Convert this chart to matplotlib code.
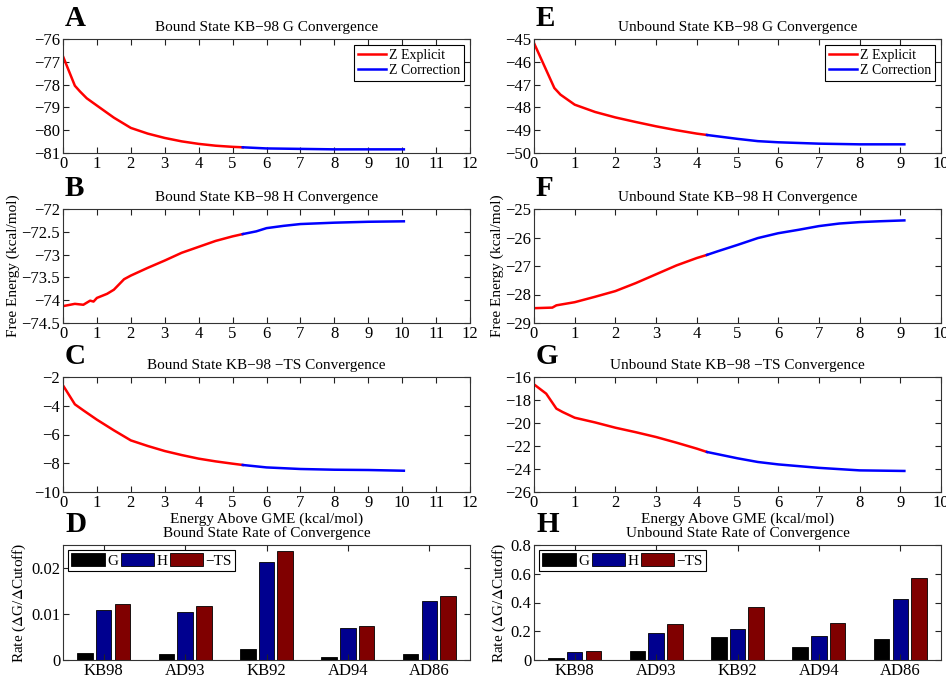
import numpy as np
import matplotlib
matplotlib.use("Agg")
import matplotlib.pyplot as plt
from matplotlib.patches import Patch

plt.rcParams['font.family'] = ['Liberation Serif', 'DejaVu Serif']
plt.rcParams['mathtext.fontset'] = 'stix'

# ---- convergence curves (red = Z explicit, blue = Z correction) ----
A_red_x = [0, 0.35, 0.5, 0.7, 1, 1.5, 2, 2.5, 3, 3.5, 4, 4.5, 5, 5.3]
A_red_y = [-76.76, -78.05, -78.3, -78.6, -78.92, -79.45, -79.9, -80.15, -80.34, -80.49, -80.6, -80.68, -80.73, -80.75]
A_blue_x = [5.3, 6, 7, 8, 9, 10.05]
A_blue_y = [-80.75, -80.8, -80.82, -80.84, -80.84, -80.84]

B_red_x = [0, 0.35, 0.6, 0.8, 0.9, 1, 1.3, 1.5, 1.8, 2, 2.5, 3, 3.5, 4, 4.5, 5, 5.3]
B_red_y = [-74.13, -74.08, -74.1, -74.01, -74.03, -73.95, -73.86, -73.77, -73.54, -73.46, -73.29,
           -73.13, -72.96, -72.83, -72.7, -72.6, -72.55]
B_blue_x = [5.3, 5.7, 6, 6.5, 7, 8, 9, 10.05]
B_blue_y = [-72.55, -72.49, -72.42, -72.37, -72.33, -72.3, -72.28, -72.27]

C_red_x = [0, 0.35, 0.6, 1, 1.5, 2, 2.5, 3, 3.5, 4, 4.5, 5, 5.3]
C_red_y = [-2.58, -3.9, -4.32, -4.97, -5.71, -6.41, -6.8, -7.15, -7.43, -7.68, -7.87, -8.03, -8.12]
C_blue_x = [5.3, 6, 7, 8, 9, 10.05]
C_blue_y = [-8.12, -8.29, -8.4, -8.45, -8.47, -8.52]

E_red_x = [0, 0.5, 0.65, 1, 1.5, 2, 2.5, 3, 3.5, 4, 4.25]
E_red_y = [-45.18, -47.15, -47.44, -47.88, -48.2, -48.44, -48.64, -48.83, -49.0, -49.15, -49.21]
E_blue_x = [4.25, 5, 5.5, 6, 7, 8, 9.1]
E_blue_y = [-49.21, -49.38, -49.48, -49.53, -49.59, -49.62, -49.62]

F_red_x = [0, 0.45, 0.55, 1, 1.5, 2, 2.5, 3, 3.5, 4, 4.25]
F_red_y = [-28.48, -28.46, -28.38, -28.27, -28.08, -27.88, -27.6, -27.29, -26.98, -26.72, -26.61]
F_blue_x = [4.25, 4.5, 5, 5.5, 6, 6.5, 7, 7.5, 8, 8.5, 9.1]
F_blue_y = [-26.61, -26.49, -26.26, -26.02, -25.85, -25.73, -25.6, -25.51, -25.46, -25.43, -25.4]

G_red_x = [0, 0.3, 0.55, 0.7, 1, 1.5, 2, 2.5, 3, 3.5, 4, 4.25]
G_red_y = [-16.64, -17.45, -18.75, -19.04, -19.54, -19.95, -20.41, -20.8, -21.22, -21.71, -22.23, -22.52]
G_blue_x = [4.25, 5, 5.5, 6, 7, 8, 9.1]
G_blue_y = [-22.52, -23.07, -23.39, -23.6, -23.9, -24.12, -24.17]

# ---- rates of convergence ----
systems = ['KB98', 'AD93', 'KB92', 'AD94', 'AD86']
bound_G = [0.00145, 0.0013, 0.0023, 0.0007, 0.0014]
bound_H = [0.0109, 0.0105, 0.0213, 0.0069, 0.0128]
bound_TS = [0.0121, 0.0118, 0.0236, 0.0074, 0.014]
unbound_G = [0.012, 0.06, 0.158, 0.09, 0.146]
unbound_H = [0.058, 0.19, 0.218, 0.167, 0.427]
unbound_TS = [0.063, 0.248, 0.371, 0.255, 0.57]

fig = plt.figure(figsize=(9.46, 6.78), dpi=100)

W, H = 946.0, 678.0
col_left = [63, 534]
col_w = 407
rows = [(39, 153), (209, 323), (377, 492), (545, 660)]


def make_ax(col, row):
    top, bot = rows[row]
    return fig.add_axes([col_left[col] / W, 1 - bot / H, col_w / W, (bot - top) / H])


def style(ax):
    ax.tick_params(direction='in', top=True, right=True, labelsize=12, length=4, width=0.8,
                   colors='#222222', labelcolor='black', pad=2)
    for s in ax.spines.values():
        s.set_linewidth(0.8)
        s.set_color('#333333')


def letter(ax, txt):
    ax.text(0.005, 1.06, txt, transform=ax.transAxes, fontsize=21, fontweight='bold',
            ha='left', va='bottom')


def curve(ax, rx, ry, bx, by, title, xmax, ylim, yticks, ytl, lab, legend=False):
    ax.plot(rx, ry, color='red', lw=1.8, label='Z Explicit')
    ax.plot(bx, by, color='blue', lw=1.8, label='Z Correction')
    ax.set_xlim(0, xmax)
    ax.set_xticks(range(0, xmax + 1))
    ax.set_ylim(*ylim)
    ax.set_yticks(yticks)
    ax.set_yticklabels(ytl)
    ax.set_title(title, fontsize=11, pad=6)
    style(ax)
    letter(ax, lab)
    if legend:
        lg = ax.legend(loc='upper right', fontsize=10, fancybox=False, framealpha=1,
                       edgecolor='black', handlelength=2.0, borderpad=0.3, labelspacing=0.15,
                       handletextpad=0.2, borderaxespad=0.4)
        lg.get_frame().set_linewidth(0.8)


def neg(vals, fmt='{:g}'):
    return [fmt.format(v).replace('-', '\u2212') for v in vals]


axA = make_ax(0, 0)
yt = [-81, -80, -79, -78, -77, -76]
curve(axA, A_red_x, A_red_y, A_blue_x, A_blue_y, 'Bound State KB\u221298 G Convergence',
      12, (-81, -76), yt, neg(yt), 'A', legend=True)

axB = make_ax(0, 1)
yt = [-74.5, -74, -73.5, -73, -72.5, -72]
curve(axB, B_red_x, B_red_y, B_blue_x, B_blue_y, 'Bound State KB\u221298 H Convergence',
      12, (-74.5, -72), yt, neg(yt), 'B')
axB.set_ylabel('Free Energy (kcal/mol)', fontsize=11, labelpad=1)

axC = make_ax(0, 2)
yt = [-10, -8, -6, -4, -2]
curve(axC, C_red_x, C_red_y, C_blue_x, C_blue_y, 'Bound State KB\u221298 \u2212TS Convergence',
      12, (-10, -2), yt, neg(yt), 'C')
axC.set_xlabel('Energy Above GME (kcal/mol)', fontsize=11, labelpad=1)

axE = make_ax(1, 0)
yt = [-50, -49, -48, -47, -46, -45]
curve(axE, E_red_x, E_red_y, E_blue_x, E_blue_y, 'Unbound State KB\u221298 G Convergence',
      10, (-50, -45), yt, neg(yt), 'E', legend=True)

axF = make_ax(1, 1)
yt = [-29, -28, -27, -26, -25]
curve(axF, F_red_x, F_red_y, F_blue_x, F_blue_y, 'Unbound State KB\u221298 H Convergence',
      10, (-29, -25), yt, neg(yt), 'F')
axF.set_ylabel('Free Energy (kcal/mol)', fontsize=11, labelpad=1)

axG = make_ax(1, 2)
yt = [-26, -24, -22, -20, -18, -16]
curve(axG, G_red_x, G_red_y, G_blue_x, G_blue_y, 'Unbound State KB\u221298 \u2212TS Convergence',
      10, (-26, -16), yt, neg(yt), 'G')
axG.set_xlabel('Energy Above GME (kcal/mol)', fontsize=11, labelpad=1)

bar_cols = ['black', '#00008f', '#800000']


def bars(ax, g, h, ts, title, ylim, yticks, ytl, lab):
    x = np.arange(1, len(systems) + 1)
    w = 0.19
    for off, vals, c in zip([-0.23, 0, 0.23], [g, h, ts], bar_cols):
        ax.bar(x + off, vals, width=w, color=c, edgecolor='black', linewidth=0.6)
    ax.set_xlim(0.5, 5.5)
    ax.set_xticks(x)
    ax.set_xticklabels(systems)
    ax.set_ylim(*ylim)
    ax.set_yticks(yticks)
    ax.set_yticklabels(ytl)
    ax.set_title(title, fontsize=11, pad=6)
    ax.set_ylabel('Rate ($\\Delta$G/$\\Delta$Cutoff)', fontsize=11, labelpad=2)
    style(ax)
    letter(ax, lab)
    handles = [Patch(facecolor=c, edgecolor='black', linewidth=0.6) for c in bar_cols]
    lg = ax.legend(handles, ['G', 'H', '\u2212TS'], loc='upper left', ncol=3, fontsize=11,
                   fancybox=False, framealpha=1, edgecolor='black', handlelength=2.2,
                   handleheight=0.9, columnspacing=0.15, handletextpad=0.15, borderpad=0.2,
                   borderaxespad=0.35)
    lg.get_frame().set_linewidth(0.8)


axD = make_ax(0, 3)
bars(axD, bound_G, bound_H, bound_TS, 'Bound State Rate of Convergence', (0, 0.025),
     [0, 0.01, 0.02], ['0', '0.01', '0.02'], 'D')

axH = make_ax(1, 3)
bars(axH, unbound_G, unbound_H, unbound_TS, 'Unbound State Rate of Convergence', (0, 0.8),
     [0, 0.2, 0.4, 0.6, 0.8], ['0', '0.2', '0.4', '0.6', '0.8'], 'H')

fig.savefig('out.png', dpi=100)
